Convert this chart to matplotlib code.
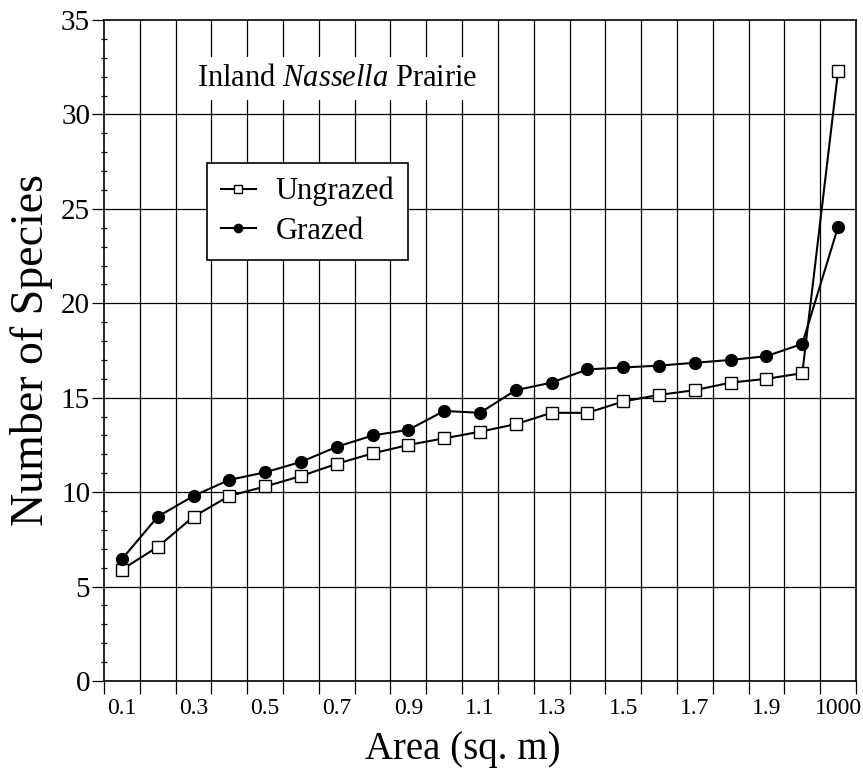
import matplotlib
matplotlib.use("Agg")
import matplotlib.pyplot as plt
import numpy as np

plt.rcParams['font.family'] = ['Liberation Serif', 'DejaVu Serif']
plt.rcParams['mathtext.fontset'] = 'custom'
plt.rcParams['mathtext.rm'] = 'Liberation Serif'
plt.rcParams['mathtext.it'] = 'Liberation Serif:italic'

areas = ["0.1", "0.2", "0.3", "0.4", "0.5", "0.6", "0.7", "0.8", "0.9", "1.0",
         "1.1", "1.2", "1.3", "1.4", "1.5", "1.6", "1.7", "1.8", "1.9", "2.0", "1000"]
ungrazed = [5.9, 7.1, 8.7, 9.8, 10.3, 10.85, 11.5, 12.05, 12.5, 12.85,
            13.2, 13.6, 14.2, 14.2, 14.8, 15.15, 15.4, 15.8, 16.0, 16.3, 32.3]
grazed = [6.45, 8.7, 9.8, 10.65, 11.05, 11.6, 12.4, 13.0, 13.3, 14.3,
          14.2, 15.4, 15.8, 16.5, 16.6, 16.7, 16.85, 17.0, 17.2, 17.85, 24.05]
tick_labels = ["0.1", "0.3", "0.5", "0.7", "0.9", "1.1", "1.3", "1.5", "1.7", "1.9", "1000"]

fig = plt.figure(figsize=(8.63, 7.69), dpi=100)
ax = fig.add_axes([104/863, 1-681/769, (856-104)/863, (681-20)/769])

x = np.arange(len(areas))
n = len(areas)

# grid
for b in np.arange(0.5, n - 0.5, 1.0):
    ax.axvline(b, color='black', lw=0.9, zorder=1)
for yv in range(5, 35, 5):
    ax.axhline(yv, color='black', lw=0.9, zorder=1)

ax.plot(x, ungrazed, color='black', lw=1.5, marker='s', markersize=8,
        markerfacecolor='white', markeredgecolor='black', markeredgewidth=1.0,
        label='Ungrazed', zorder=3)
ax.plot(x, grazed, color='black', lw=1.5, marker='o', markersize=8.5,
        markerfacecolor='black', markeredgecolor='black',
        label='Grazed', zorder=3)

ax.set_xlim(-0.5, n - 0.5)
ax.set_ylim(0, 35)

# x ticks: labels at every other category, tick marks on boundaries
label_pos = [areas.index(t) for t in tick_labels]
ax.set_xticks(label_pos)
ax.set_xticklabels(tick_labels, fontsize=17)
ax.tick_params(axis='x', which='major', length=0, pad=12)
ax.set_xticks(np.arange(-0.5, n, 1.0), minor=True)
ax.tick_params(axis='x', which='minor', length=9, width=0.9, direction='out')

ax.set_yticks(range(0, 36, 5))
ax.set_yticks(range(0, 36, 1), minor=True)
ax.tick_params(axis='y', which='major', length=9, width=0.9, direction='out', labelsize=21, pad=1)
ax.tick_params(axis='y', which='minor', length=5, width=0.9, direction='inout')

for s in ax.spines.values():
    s.set_linewidth(1.2)

ax.set_xlabel('Area (sq. m)', fontsize=28)
ax.xaxis.set_label_coords((463-104)/752, -(731-681)/661)
ax.set_ylabel('Number of Species', fontsize=33, labelpad=6)

ax.text((197-104)/752, 0.912, r"Inland $\it{Nassella}$ Prairie", transform=ax.transAxes,
        fontsize=22, ha='left', va='center', zorder=4,
        bbox=dict(facecolor='white', edgecolor='none', pad=5))

leg = ax.legend(loc='upper left', bbox_to_anchor=((207-104)/752, (681-163)/661),
                fontsize=22, frameon=True, fancybox=False, framealpha=1,
                edgecolor='black', handlelength=1.15, borderpad=0.45,
                labelspacing=0.35, handletextpad=0.65, borderaxespad=0,
                markerscale=0.7)
leg.get_frame().set_linewidth(1.2)
leg.set_zorder(5)

fig.savefig('out.png', dpi=100, facecolor='white')
